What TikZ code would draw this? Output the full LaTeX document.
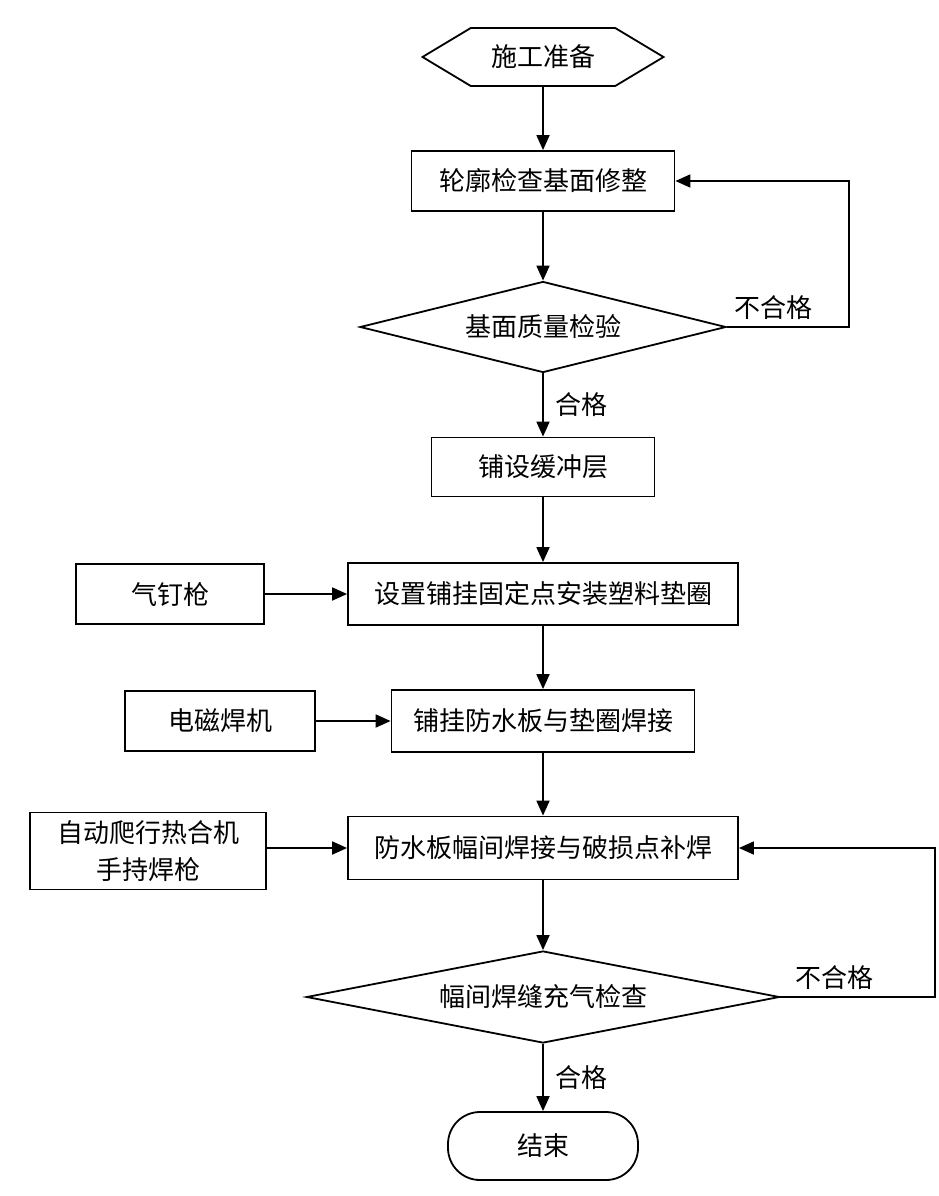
\documentclass[tikz,border=0pt]{standalone}
\usepackage{fontspec}
\setmainfont{Noto Sans CJK SC}
\usetikzlibrary{shapes.geometric,shapes.symbols,arrows.meta}

\begin{document}
\begin{tikzpicture}[x=1pt, y=-1pt, line width=1.8pt,
  font=\fontsize{26}{37}\selectfont,
  box/.style={draw, rectangle, inner sep=0pt},
  check/.style={draw, diamond, inner sep=0pt},
  arr/.style={-{Triangle[length=15pt,width=13pt]}}]
\useasboundingbox (0,0) rectangle (938,1196);
\node[draw, signal, signal to=west and east, signal pointer angle=62, minimum width=241pt, minimum height=58pt, inner sep=0pt] (start) at (543,57) {施工准备};
\node[box, minimum width=263pt, minimum height=60pt] (trim) at (543,181) {轮廓检查基面修整};
\node[check, aspect=4, minimum width=366pt, minimum height=91pt] (q1) at (543,327) {基面质量检验};
\node[box, minimum width=223pt, minimum height=59pt] (buffer) at (543,467) {铺设缓冲层};
\node[box, minimum width=390pt, minimum height=62pt] (fix) at (543,594) {设置铺挂固定点安装塑料垫圈};
\node[box, minimum width=188pt, minimum height=60pt] (nailgun) at (170,594) {气钉枪};
\node[box, minimum width=303pt, minimum height=62pt] (hang) at (543,721) {铺挂防水板与垫圈焊接};
\node[box, minimum width=190pt, minimum height=60pt] (welder) at (220,721) {电磁焊机};
\node[box, minimum width=390pt, minimum height=63pt] (seam) at (543,848) {防水板幅间焊接与破损点补焊};
\node[box, minimum width=236pt, minimum height=77pt, align=center] (tools) at (148,851) {自动爬行热合机\\手持焊枪};
\node[check, aspect=5, minimum width=473pt, minimum height=92pt] (q2) at (543,997) {幅间焊缝充气检查};
\node[draw, rounded corners=32pt, minimum width=190pt, minimum height=68pt] (stop) at (543,1146) {结束};
\coordinate (r1) at (849,327);
\coordinate (r2) at (935,997);

\draw[arr] (start) -- (trim);
\draw[arr] (trim) -- (q1);
\draw[arr] (q1) -- node[right=8pt]{合格} (buffer);
\draw[arr] (q1.east) -- node[pos=0.38, above=3pt]{不合格} (r1) |- (trim.east);
\draw[arr] (buffer) -- (fix);
\draw[arr] (nailgun) -- (fix);
\draw[arr] (fix) -- (hang);
\draw[arr] (welder) -- (hang);
\draw[arr] (hang) -- (seam);
\draw[arr] (tools.east |- seam) -- (seam);
\draw[arr] (seam) -- (q2);
\draw[arr] (q2.east) -- node[pos=0.35, above=3pt]{不合格} (r2) |- (seam.east);
\draw[arr] (q2) -- node[right=8pt]{合格} (stop);
\end{tikzpicture}
\end{document}
